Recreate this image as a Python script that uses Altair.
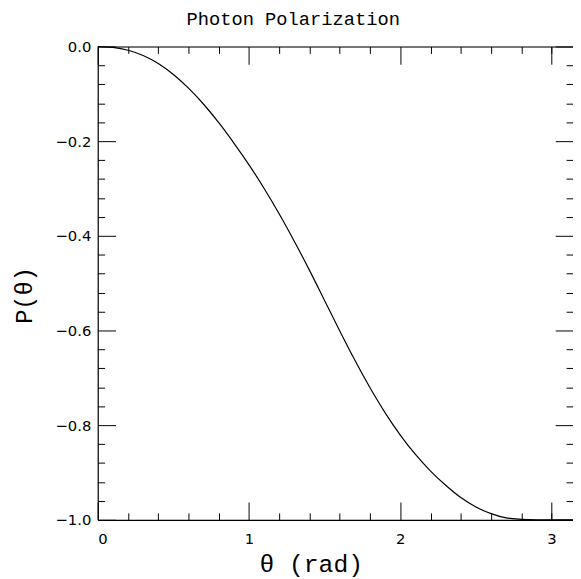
import altair as alt
import pandas as pd

# values
theta = [0.0, 0.1, 0.2, 0.3, 0.4, 0.5, 0.6, 0.7, 0.8, 0.9, 1.0, 1.1, 1.2, 1.3, 1.4,
         1.5, 1.6, 1.7, 1.8, 1.9, 2.0, 2.1, 2.2, 2.3, 2.4, 2.5, 2.6, 2.7, 2.8, 2.9,
         3.0, 3.14159]
pol = [0.0, -0.002, -0.008, -0.019, -0.036, -0.059, -0.088, -0.122, -0.161, -0.204,
       -0.250, -0.300, -0.354, -0.412, -0.473, -0.537, -0.601, -0.663, -0.721, -0.774,
       -0.821, -0.862, -0.897, -0.927, -0.953, -0.973, -0.987, -0.996, -0.999, -1.0,
       -1.0, -1.0]

x_major = [0, 1, 2, 3]
x_minor = [0.2, 0.4, 0.6, 0.8, 1.2, 1.4, 1.6, 1.8, 2.2, 2.4, 2.6, 2.8, 3.0]
y_major = [0.0, -0.2, -0.4, -0.6, -0.8, -1.0]
y_minor = [-0.04, -0.08, -0.12, -0.16, -0.24, -0.28, -0.32, -0.36, -0.44, -0.48,
           -0.52, -0.56, -0.64, -0.68, -0.72, -0.76, -0.84, -0.88, -0.92, -0.96]

title_text = "Photon Polarization"
x_title = "θ (rad)"
y_title = "P(θ)"

df = pd.DataFrame({"theta": theta, "p": pol})

XS = alt.Scale(domain=[0, 3.14159], nice=False, zero=False)
YS = alt.Scale(domain=[-1, 0], nice=False, zero=False)

MAJ = 18
MIN = 7


def tick_axis(orient, values, size):
    return alt.Axis(orient=orient, values=values, offset=-size, tickSize=size,
                    ticks=True, labels=False, domain=False, grid=False, title=None,
                    tickColor="black", tickWidth=1)


def layer(xaxis, yaxis, visible=False):
    return alt.Chart(df).mark_line(
        color="black", strokeWidth=1.2, interpolate="monotone",
        opacity=1 if visible else 0,
    ).encode(
        x=alt.X("theta:Q", scale=XS, axis=xaxis),
        y=alt.Y("p:Q", scale=YS, axis=yaxis),
    )


x_lab = alt.Axis(orient="bottom", values=x_major, format=".0f", ticks=False, tickSize=0,
                 domain=True, domainColor="black", domainWidth=1.2, grid=False,
                 labelPadding=12, labelFont="DejaVu Sans",
                 labelFontSize=15, labelColor="black", title=x_title,
                 titleFont="Liberation Mono", titleFontSize=25, titleFontWeight="normal",
                 titleColor="black", titleX=216, titleY=44, titleBaseline="middle",
                 titleAlign="center")
y_lab = alt.Axis(orient="left", values=y_major, format=".1f", ticks=False, tickSize=0,
                 domain=True, domainColor="black", domainWidth=1.2, grid=False,
                 labelPadding=7, labelFont="DejaVu Sans",
                 labelFontSize=15, labelColor="black", title=y_title,
                 titleFont="Liberation Mono", titleFontSize=24, titleFontWeight="normal",
                 titleColor="black", titleX=-74, titleY=252, titleBaseline="middle",
                 titleAlign="center", titleAngle=270)
x_top = alt.Axis(orient="top", ticks=False, labels=False, domain=True,
                 domainColor="black", domainWidth=1.2, grid=False, title=None)
y_right = alt.Axis(orient="right", ticks=False, labels=False, domain=False,
                   grid=False, title=None)

chart = alt.layer(
    layer(tick_axis("bottom", x_major, MAJ), tick_axis("left", y_major, MAJ)),
    layer(tick_axis("bottom", x_minor, MIN), tick_axis("left", y_minor, MIN)),
    layer(tick_axis("top", x_major, MAJ), tick_axis("right", y_major, MAJ)),
    layer(tick_axis("top", x_minor, MIN), tick_axis("right", y_minor, MIN)),
    layer(x_top, y_right),
    layer(x_lab, y_lab, visible=True),
).resolve_axis(
    x="independent", y="independent"
).properties(
    width=482,
    height=480,
    autosize=alt.AutoSizeParams(type="none"),
    padding={"left": 91, "top": 35, "right": 0, "bottom": 56},
    title=alt.TitleParams(title_text, font="Liberation Mono", fontSize=19,
                          fontWeight="normal", color="black", anchor="start",
                          frame="group", dx=90, dy=4, offset=0, baseline="alphabetic"),
).configure_view(strokeWidth=0).configure(background="white")

chart.save("out.html", embed_options={"renderer": "svg", "actions": False})
